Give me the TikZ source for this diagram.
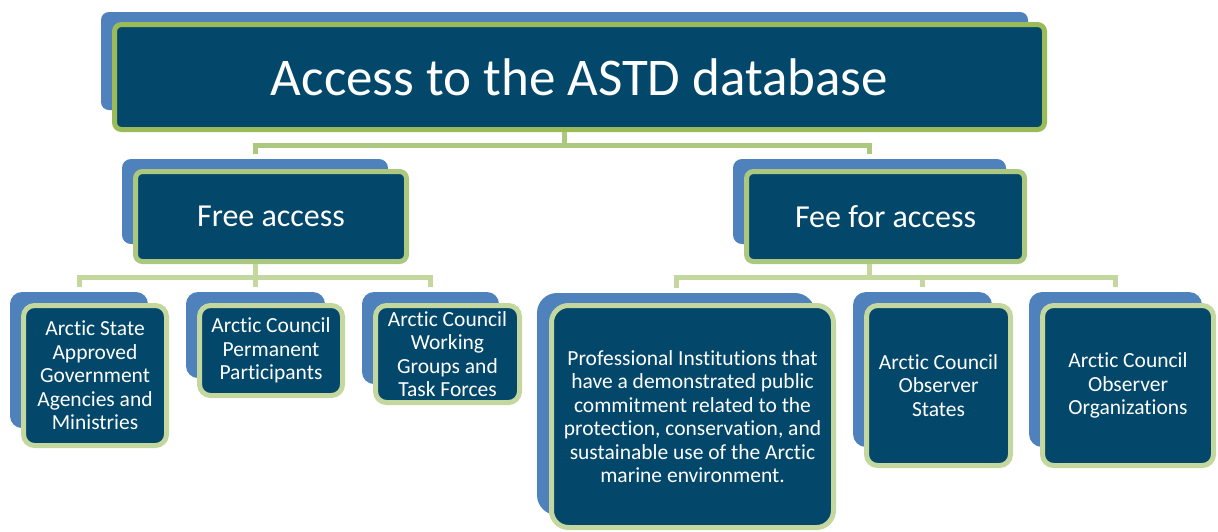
\documentclass[tikz,border=0pt]{standalone}
\usepackage{fontspec}
\setmainfont[Ligatures=NoCommon]{Carlito}
\definecolor{boxnavy}{RGB}{3,72,107}
\definecolor{shadeblue}{RGB}{79,129,189}
\definecolor{olivegreen}{RGB}{155,187,89}
\definecolor{midgreen}{RGB}{172,199,126}
\definecolor{palegreen}{RGB}{196,215,158}
\tikzset{shade box/.style={rectangle, fill=shadeblue, inner sep=0pt, rounded corners=#1},
         shade box/.default=9pt,
         org box/.style={rectangle, fill=boxnavy, draw=palegreen, line width=5pt, text=white,
                          align=center, inner sep=0pt, rounded corners=#1,
                          font=\fontsize{21.5}{23.5}\selectfont},
         org box/.default=11pt,
         bus/.style={draw=palegreen, line width=5pt, shorten >=5pt}}

\begin{document}
\begin{tikzpicture}[x=1pt, y=-1pt]
            \useasboundingbox (0,0) rectangle (1218,531);

            \node[shade box=8pt, minimum width=927, minimum height=98] (tops) at (564.5, 61) {};
            \node[org box=7pt, draw=olivegreen, minimum width=930, minimum height=105,
                  font=\fontsize{53}{60}\selectfont] (top) at (579.5, 77) {Access to the ASTD database};

                    \node[shade box, minimum width=266, minimum height=85] (frees) at (255, 201.5) {};
                    \node[org box=7pt, draw=midgreen, minimum width=271, minimum height=90,
                          font=\fontsize{32}{38}\selectfont] (free) at (271, 216.5) {Free access};
                    \node[shade box, minimum width=273, minimum height=85] (fees) at (869.5, 201.5) {};
                    \node[org box=7pt, draw=midgreen, minimum width=278, minimum height=90,
                          font=\fontsize{32}{38}\selectfont] (fee) at (885.5, 216.5) {Fee for access};

                    \draw[bus, draw=midgreen] (tops |- top.south) -- ++(0,13.5) -| (frees.north);
                    \draw[bus, draw=midgreen] (tops |- top.south) -- ++(0,13.5) -| (fees.north);

                    \node[shade box=12pt, minimum width=138, minimum height=136] (n1s) at (79, 360) {};
                    \node[org box, minimum width=143, minimum height=140] (n1) at (95, 375.5)
                          {Arctic State\\Approved\\Government\\Agencies and\\Ministries};
                    \node[shade box=12pt, minimum width=139, minimum height=86] (n2s) at (255.5, 335) {};
                    \node[org box, minimum width=143, minimum height=90] (n2) at (271, 350.5)
                          {Arctic Council\\Permanent\\Participants};
                    \node[shade box=12pt, minimum width=137, minimum height=92] (n3s) at (430.5, 338) {};
                    \node[org box, minimum width=144, minimum height=97] (n3) at (447.5, 354)
                          {Arctic Council\\Working\\Groups and\\Task Forces};

                    \draw[bus] (frees |- free.south) -- ++(0,13.5) -| (n1s.north);
                    \draw[bus] (frees |- free.south) -- ++(0,13.5) -| (n2s.north);
                    \draw[bus] (frees |- free.south) -- ++(0,13.5) -| (n3s.north);

                    \node[shade box=20pt, minimum width=278, minimum height=222] (n4s) at (676, 404) {};
                    \node[org box=17pt, minimum width=282, minimum height=222] (n4) at (692.5, 416.5)
                          {Professional Institutions that\\have a demonstrated public\\commitment related to the\\protection, conservation, and\\sustainable use of the Arctic\\marine environment.};
                    \node[shade box=13pt, minimum width=139, minimum height=155] (n5s) at (922.5, 369.5) {};
                    \node[org box, minimum width=144, minimum height=160] (n5) at (938.5, 385.5)
                          {Arctic Council\\Observer\\States};
                    \node[shade box=13pt, minimum width=173, minimum height=155] (n6s) at (1115.5, 369.5) {};
                    \node[org box, minimum width=171, minimum height=160] (n6) at (1128, 385.5)
                          {Arctic Council\\Observer\\Organizations};

                    \draw[bus] (fees |- fee.south) -- ++(0,13.5) -| (n4s.north);
                    \draw[bus] (fees |- fee.south) -- ++(0,13.5) -| (n5s.north);
                    \draw[bus] (fees |- fee.south) -- ++(0,13.5) -| (n6s.north);
        \end{tikzpicture}
\end{document}
